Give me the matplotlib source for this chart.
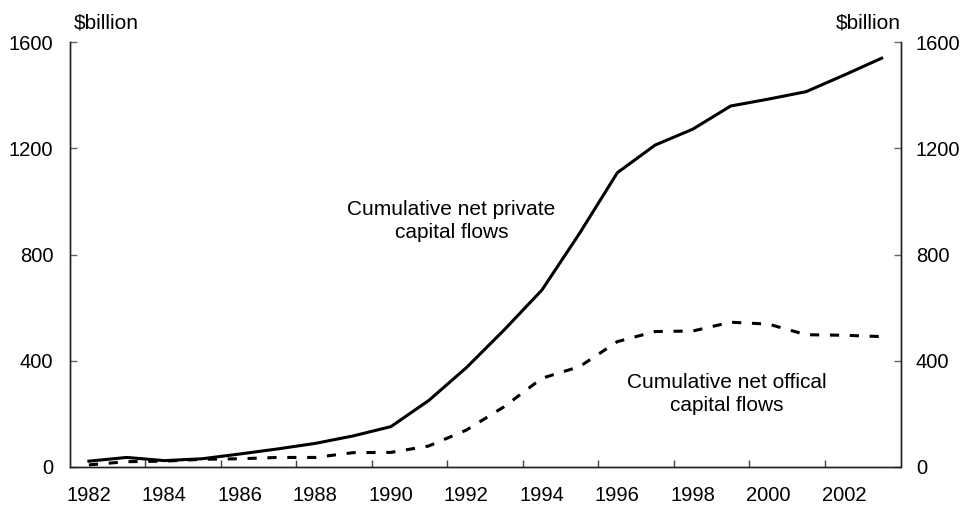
import matplotlib
matplotlib.use("Agg")
import matplotlib.pyplot as plt
import numpy as np

plt.rcParams["font.family"] = ["Liberation Sans", "DejaVu Sans"]

# Years and cumulative flows ($billion)
years = list(range(1982, 2004))
private_flows = [22, 36, 24, 31, 49, 68, 89, 117, 152, 250, 374, 516, 666,
                 880, 1108, 1212, 1272, 1359, 1385, 1413, 1475, 1539]
official_flows = [8, 20, 22, 29, 31, 36, 36, 54, 55, 79, 139, 227, 334,
                  378, 472, 510, 512, 545, 538, 498, 496, 491]

year_labels = list(range(1982, 2004, 2))
y_ticks = [0, 400, 800, 1200, 1600]

FS = 15
TICK_FS = 14.5

fig = plt.figure(figsize=(9.64, 5.05), dpi=100)
ax = fig.add_axes([70 / 964, (505 - 467) / 505, (900.5 - 70) / 964, (467 - 42) / 505])

ax.plot(years, private_flows, color="black", linewidth=2.2, solid_joinstyle="miter")
ax.plot(years, official_flows, color="black", linewidth=2.2,
        linestyle=(0, (3, 3.5)))

ax.set_xlim(1981.5, 2003.5)
ax.set_ylim(0, 1600)

# year labels without marks, marks between every second year
ax.set_xticks(year_labels)
ax.set_xticklabels([str(y) for y in year_labels])
ax.tick_params(axis="x", which="major", length=0, pad=14, labelsize=TICK_FS)
ax.set_xticks([y + 1.5 for y in year_labels[:-1]], minor=True)
ax.tick_params(axis="x", which="minor", direction="in", length=5,
               width=1, color="#444444")

ax.set_yticks(y_ticks)
ax.tick_params(axis="y", direction="in", length=5, width=1, color="#666666",
               labelsize=TICK_FS, pad=12)

ax2 = ax.twinx()
ax2.set_ylim(0, 1600)
ax2.set_yticks(y_ticks)
ax2.tick_params(axis="y", direction="in", length=5, width=1, color="#666666",
                labelsize=TICK_FS, pad=11)

for a in (ax, ax2):
    a.spines["top"].set_visible(False)
    for s in ("left", "right", "bottom"):
        a.spines[s].set_linewidth(1.0)
        a.spines[s].set_color("#222222")

fig.text(74 / 964, 1 - 23 / 505, "$billion", fontsize=FS, ha="left", va="center")
fig.text(901 / 964, 1 - 23 / 505, "$billion", fontsize=FS, ha="right", va="center")

ax.text(1991.6, 925, "Cumulative net private\ncapital flows", fontsize=FS,
        ha="center", va="center", linespacing=1.25)
ax.text(1998.9, 276, "Cumulative net offical\ncapital flows", fontsize=FS,
        ha="center", va="center", linespacing=1.25)

fig.savefig("out.png", dpi=100, facecolor="white")
